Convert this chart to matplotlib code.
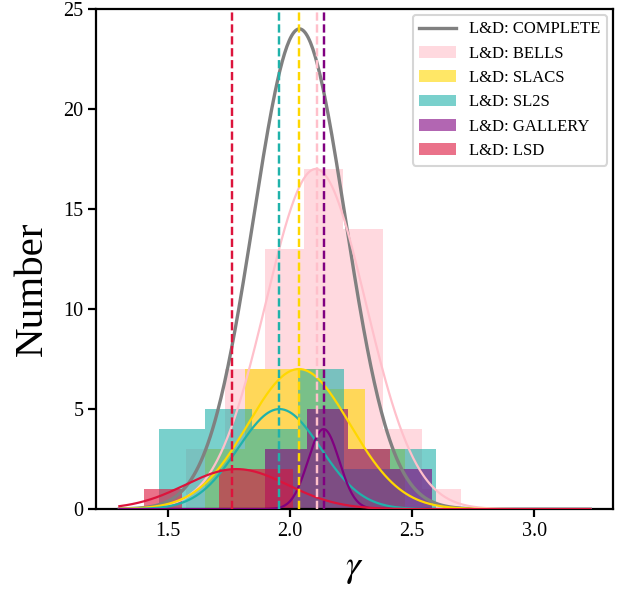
import numpy as np
import matplotlib
matplotlib.use("Agg")
import matplotlib.pyplot as plt

plt.rcParams['font.family'] = ['Liberation Serif', 'DejaVu Serif']
plt.rcParams['mathtext.fontset'] = 'stix'

# ---- data ----
labels = ["L&D: BELLS", "L&D: SLACS", "L&D: SL2S", "L&D: GALLERY", "L&D: LSD"]
colors = ["pink", "gold", "lightseagreen", "purple", "crimson"]

bells_edges = [1.574, 1.735, 1.896, 2.057, 2.218, 2.379, 2.540, 2.701]
bells_counts = [3, 7, 13, 17, 14, 4, 1]
slacs_edges = [1.650, 1.814, 1.978, 2.142, 2.306, 2.470]
slacs_counts = [3, 7, 7, 6, 3]
sl2s_edges = [1.464, 1.653, 1.842, 2.031, 2.220, 2.409, 2.598]
sl2s_counts = [4, 5, 4, 7, 2, 3]
gallery_edges = [1.896, 2.067, 2.238, 2.409, 2.580]
gallery_counts = [3, 5, 3, 2]
lsd_edges = [1.403, 1.555, 1.707, 1.859, 2.011]
lsd_counts = [1, 0, 2, 2]

# fitted curves: (peak height, mean, sigma)
complete_fit = (24.0, 2.038, 0.188)
bells_fit = (17.0, 2.105, 0.205)
slacs_fit = (7.0, 2.036, 0.209)
sl2s_fit = (5.0, 1.956, 0.170)
gallery_fit = (4.0, 2.137, 0.064)
lsd_fit = (2.0, 1.780, 0.210)

means = [2.109, 2.036, 1.956, 2.137, 1.761]  # BELLS, SLACS, SL2S, GALLERY, LSD
curve_range = (1.30, 3.23)

fig = plt.figure(figsize=(6.27, 5.92), dpi=100)
ax = fig.add_axes([0.153, 0.140, 0.825, 0.845])

hists = [(bells_edges, bells_counts), (slacs_edges, slacs_counts),
         (sl2s_edges, sl2s_counts), (gallery_edges, gallery_counts),
         (lsd_edges, lsd_counts)]
for (edges, counts), c, lab in zip(hists, colors, labels):
    e = np.array(edges)
    ax.bar(e[:-1], counts, width=np.diff(e), align='edge', color=c,
           alpha=0.6, linewidth=0, label=lab)

x = np.linspace(curve_range[0], curve_range[1], 400)
def gauss(p):
    a, m, s = p
    return a * np.exp(-0.5 * ((x - m) / s) ** 2)

ax.plot(x, gauss(complete_fit), color='grey', lw=2.4, label="L&D: COMPLETE", zorder=3)
for p, c in zip([bells_fit, slacs_fit, sl2s_fit, gallery_fit, lsd_fit], colors):
    ax.plot(x, gauss(p), color=c, lw=1.6, zorder=3)
for m, c in zip(means, colors):
    ax.axvline(m, color=c, ls=(0, (3.4, 1.5)), lw=1.75, zorder=4)

ax.set_xlim(1.204, 3.324)
ax.set_ylim(0, 25)
ax.set_xticks([1.5, 2.0, 2.5, 3.0])
ax.set_yticks([0, 5, 10, 15, 20, 25])
ax.tick_params(labelsize=14.5, width=1.6, length=5.5)
for s in ax.spines.values():
    s.set_linewidth(1.6)
ax.set_xlabel(r'$\gamma$', fontsize=27, labelpad=8)
ax.set_ylabel('Number', fontsize=29.5)
ax.yaxis.set_label_coords(-0.088, 0.44)

h, l = ax.get_legend_handles_labels()
order = [l.index("L&D: COMPLETE")] + [l.index(n) for n in labels]
leg = ax.legend([h[i] for i in order], [l[i] for i in order], loc='upper right',
                fontsize=12, borderaxespad=0.35, handlelength=2.2)
leg.get_frame().set_linewidth(1.5)

fig.savefig("out.png", dpi=100)
